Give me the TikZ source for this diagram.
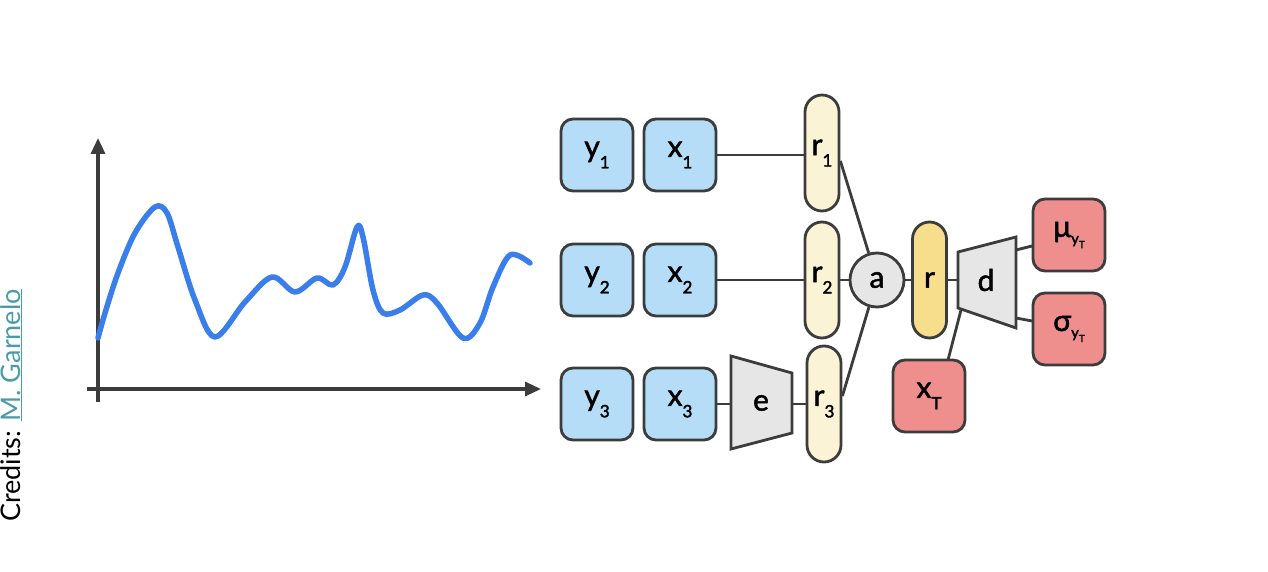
\documentclass[tikz,border=0pt]{standalone}
\usepackage{fontspec}
\setmainfont{Lato}
\newfontfamily\heavyfont{Lato}[FakeBold=1.6]
\newfontfamily\subfont{Lato}[FakeBold=2.2]
\usetikzlibrary{arrows.meta,calc}
\definecolor{linec}{HTML}{3C3C3C}
\definecolor{bluef}{HTML}{B5DDF8}
\definecolor{palef}{HTML}{FBF3D6}
\definecolor{yelf}{HTML}{F6DE8D}
\definecolor{grayf}{HTML}{E6E6E6}
\definecolor{redf}{HTML}{EE8F8E}
\definecolor{curvec}{HTML}{3A7EEB}
\definecolor{linkc}{HTML}{4A9BAA}
\newcommand\lowsub[1]{\raisebox{-0.38em}{\subfont\fontsize{17}{17}\selectfont #1}}
\newcommand\grsub[1]{\raisebox{-0.22em}{\subfont\fontsize{15}{15}\selectfont #1}}
\newcommand\tinysub[1]{\raisebox{-0.3em}{\subfont\fontsize{10}{10}\selectfont #1}}
\begin{document}
\begin{tikzpicture}[x=1pt,y=-1pt,
  every node/.style={font=\heavyfont\fontsize{30}{34}\selectfont, text=black},
  conn/.style={draw=linec, line width=2.8pt},
  sqbox/.style={draw=linec, line width=2.8pt, rounded corners=12pt, minimum width=72pt, minimum height=72pt, inner sep=0pt},
  bluebox/.style={sqbox, fill=bluef},
  redbox/.style={sqbox, fill=redf},
  pill/.style={draw=linec, line width=2.8pt, rounded corners=17pt, minimum width=34pt, minimum height=116pt, inner sep=0pt},
  trap/.style={draw=linec, line width=2.8pt, fill=grayf, line join=miter},
  axis/.style={draw=linec, line width=3.2pt, -{Triangle[length=16pt,width=14pt]}}
]
\useasboundingbox (0,0) rectangle (1268,572);

% credits
\node[rotate=90, anchor=base west, inner sep=0pt, font=\fontsize{27}{29}\selectfont] (credits) at (20,522) {Credits: \textcolor{linkc}{\underline{M. Garnelo}}};

% plot
\coordinate (o1) at (98,402);
\coordinate (o2) at (98,138);
\coordinate (o3) at (87,389);
\coordinate (o4) at (541,389);
\draw[axis] (o1) -- (o2);
\draw[axis] (o3) -- (o4);
\draw[curvec, line width=5.5pt, line cap=round, line join=round] plot[smooth, tension=0.55] coordinates {
 (98,338) (105,313) (118,273) (135,233) (155,207) (167,213) (178,247) (195,300) (215,337)
 (245,302) (272,277) (295,292) (317,278) (333,285) (345,267) (357,227) (363,237) (373,290) (383,313)
 (400,310) (423,295) (437,303) (463,338) (480,323) (493,287) (510,255) (530,263)};

% encoder side
\node[bluebox] (y1) at (597,155) {y\lowsub{1}};
\node[bluebox] (x1) at (680,155) {x\lowsub{1}};
\node[bluebox] (y2) at (597,280) {y\lowsub{2}};
\node[bluebox] (x2) at (680,280) {x\lowsub{2}};
\node[bluebox] (y3) at (597,404) {y\lowsub{3}};
\node[bluebox] (x3) at (680,404) {x\lowsub{3}};

\node[pill, fill=palef] (r1) at (822,153) {r\lowsub{1}};
\node[pill, fill=palef] (r2) at (822,280) {r\lowsub{2}};
\node[pill, fill=palef] (r3) at (824,404) {r\lowsub{3}};

% encoder trapezoid e
\draw[trap] (731,356) -- (792,373) -- (792,433) -- (731,449) -- cycle;
\node (e) at (761,403) {e};
\coordinate (eL) at (731,404);
\coordinate (eR) at (792,404);

% aggregator
\node[circle, draw=linec, line width=2.8pt, fill=grayf, minimum size=54pt, inner sep=0pt] (a) at (877,280) {a};
\node[pill, fill=yelf] (r) at (929.5,280) {r};

% decoder trapezoid d
\draw[trap] (958,252) -- (1016,237) -- (1016,328) -- (958,308) -- cycle;
\node (d) at (986,280) {d};
\coordinate (dL) at (958,280);
\coordinate (dT) at (1016,250);
\coordinate (dB) at (1016,318);
\coordinate (dBL) at (961,310);

\node[redbox] (mu) at (1069,235) {μ\grsub{y\tinysub{T}}};
\node[redbox] (sigma) at (1069,329) {σ\grsub{y\tinysub{T}}};
\node[redbox] (xT) at (929,396) {x\lowsub{T}};
\coordinate (xTtop) at (948,360);
\coordinate (muL) at (1032,246);
\coordinate (sigL) at (1032,321);

% connectors
\draw[conn] (x1) -- (r1.west |- x1.east);
\draw[conn] (x2) -- (r2);
\draw[conn] (x3) -- (eL);
\draw[conn] (eR) -- (r3.west |- eR);
\draw[conn] ($(r1.east)+(0,8)$) -- (a);
\draw[conn] (r2) -- (a);
\draw[conn] ($(r3.east)+(0,-8)$) -- (a);
\draw[conn] (a) -- (r);
\draw[conn] (r) -- (dL);
\draw[conn] (dT) -- (muL);
\draw[conn] (dB) -- (sigL);
\draw[conn] (xTtop) -- (dBL);
\end{tikzpicture}
\end{document}
